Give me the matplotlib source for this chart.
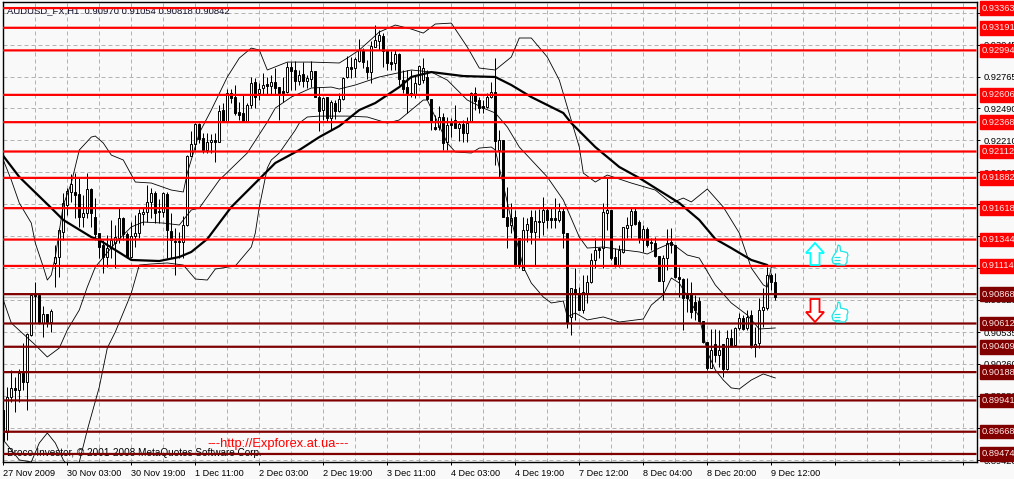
import matplotlib
matplotlib.use("Agg")
import matplotlib.pyplot as plt
from matplotlib.patches import Polygon
import numpy as np

# AUDUSD H1 candles, in points (92561 means 0.92561)
opens = [89858,89666,89971,90050,90032,90180,90102,90512,90861,90861,
         90617,90695,90625,91140,91192,91410,91645,91759,91759,91741,
         91541,91576,91785,91541,91401,91297,91192,91270,91314,91358,
         91532,91392,91192,91375,91401,91567,91584,91672,91750,91593,
         91584,91741,91419,91331,91331,91323,91471,92073,92177,92352,
         92230,92125,92195,92212,92195,92474,92369,92622,92587,92456,
         92448,92378,92517,92718,92622,92666,92700,92683,92718,92674,
         92639,92631,92849,92823,92727,92788,92727,92744,92814,92587,
         92474,92587,92404,92535,92465,92570,92762,92849,92840,92901,
         92997,92849,92805,93023,93075,93119,92988,92892,92884,92962,
         92735,92674,92622,92613,92700,92735,92762,92570,92326,92326,
         92413,92195,92360,92387,92317,92352,92273,92378,92622,92561,
         92509,92500,92587,92631,92125,92212,91541,91471,91541,91358,
         91079,91427,91541,91410,91506,91497,91602,91532,91532,91515,
         91593,91401,90669,90913,90878,90730,90878,90974,91166,91270,
         91270,91576,91602,91192,91122,91236,91445,91471,91593,91497,
         91340,91436,91323,91314,91201,90983,91183,91323,91297,91018,
         91000,90878,90878,90800,90808,90634,90451,90224,90433,90337,
         90433,90215,90486,90425,90573,90660,90573,90686,90407,90442,
         90730,90747,91035,90970]
highs = [89858,90058,90207,90146,90215,90442,90529,90878,90974,90869,
         90765,90695,90739,91297,91445,91750,91794,91916,91924,91881,
         91733,91924,91794,91706,91401,91340,91384,91515,91471,91619,
         91541,91410,91497,91558,91611,91619,91820,91794,91768,91698,
         91759,91759,91576,91445,91410,91549,92081,92291,92360,92360,
         92273,92273,92265,92273,92517,92535,92657,92657,92692,92544,
         92605,92535,92762,92753,92709,92796,92762,92779,92840,92674,
         92762,92892,92892,92901,92823,92892,92779,92901,92814,92674,
         92587,92587,92561,92561,92622,92762,92945,92936,92936,93093,
         93014,92910,93075,93215,93171,93145,92988,92988,92997,92971,
         92823,92823,92823,92779,92866,92927,92823,92570,92430,92509,
         92448,92413,92404,92517,92369,92387,92413,92631,92674,92587,
         92561,92622,92718,92927,92299,92212,91802,91663,91602,91358,
         91541,91532,91602,91602,91611,91715,91628,91619,91706,91663,
         91628,91401,90922,91096,90930,91035,91035,91227,91358,91279,
         91663,91890,91602,91270,91297,91454,91541,91628,91628,91515,
         91471,91454,91358,91366,91201,91209,91436,91445,91297,91105,
         91009,91009,90974,90861,90843,90634,90451,90564,90564,90555,
         90433,90555,90564,90582,90704,90686,90730,90730,90582,90834,
         90922,91105,91054,91054]
lows = [89492,89596,89928,89840,89928,90032,89858,90503,90617,90608,
        90494,90582,90538,90930,91018,91340,91558,91672,91532,91454,
        91454,91532,91454,91340,91183,91052,91105,91183,91096,91314,
        91340,91183,91183,91279,91358,91471,91497,91532,91488,91488,
        91541,91183,91183,91035,91183,91183,91462,92073,92125,92186,
        92099,92099,92099,92020,92195,92369,92369,92535,92430,92387,
        92369,92369,92491,92491,92561,92605,92605,92605,92605,92387,
        92544,92622,92648,92648,92692,92674,92666,92674,92587,92291,
        92387,92369,92299,92395,92456,92561,92753,92753,92762,92892,
        92840,92744,92709,93023,92997,92849,92823,92823,92823,92692,
        92622,92448,92587,92578,92692,92709,92561,92299,92299,92299,
        92125,92125,92238,92317,92204,92195,92195,92378,92474,92448,
        92448,92491,92578,91994,91890,91541,91270,91401,91105,91096,
        91079,91323,91305,91122,91358,91384,91445,91445,91445,91497,
        91270,90573,90512,90643,90730,90704,90791,90965,91096,91183,
        91096,91427,91166,91105,91105,91227,91358,91358,91471,91314,
        91236,91279,91253,91192,90983,90817,91079,91227,91009,90843,
        90555,90712,90660,90643,90625,90442,90207,90224,90276,90233,
        90146,90207,90407,90416,90555,90555,90555,90398,90320,90398,
        90582,90730,90904,90818]
closes = [89596,89971,90050,90032,90180,90102,90520,90861,90852,90617,
          90695,90625,90721,91192,91427,91663,91768,91829,91733,91541,
          91576,91785,91576,91392,91279,91192,91270,91340,91366,91532,
          91392,91192,91375,91401,91576,91584,91672,91750,91576,91584,
          91750,91427,91340,91323,91323,91471,92073,92177,92352,92221,
          92125,92195,92212,92195,92465,92369,92622,92578,92448,92430,
          92378,92517,92709,92587,92657,92692,92683,92718,92666,92622,
          92622,92849,92814,92727,92779,92727,92753,92814,92587,92465,
          92578,92404,92544,92465,92570,92753,92849,92831,92919,92997,
          92892,92805,93032,93084,93128,92988,92884,92875,92962,92744,
          92657,92605,92605,92709,92858,92840,92570,92378,92308,92413,
          92186,92343,92343,92317,92352,92273,92360,92622,92552,92491,
          92491,92587,92631,92204,92212,91541,91462,91532,91122,91122,
          91427,91480,91410,91506,91497,91602,91515,91515,91515,91593,
          91401,90616,90922,90870,90730,90887,90974,91166,91253,91253,
          91584,91602,91183,91122,91253,91454,91471,91593,91480,91358,
          91436,91297,91314,91201,90983,91183,91314,91297,91018,91000,
          90834,90834,90712,90730,90634,90451,90224,90381,90337,90381,
          90215,90486,90416,90573,90660,90564,90669,90407,90433,90730,
          90756,91035,90974,90842]

# moving average and Bollinger bands, read at the bends of each line
ma_bars = [0,4,12,15,22,24,28,32,39,44,47,51,57,65,68,74,79,84,89,93,99,102,107,
           115,123,127,132,140,142,148,154,159,169,174,178,182,187,191]
ma_vals = [92073,91890,91619,91515,91366,91340,91253,91166,91157,91192,91236,91349,
           91628,91907,92012,92125,92238,92334,92474,92535,92674,92762,92805,
           92770,92762,92692,92587,92448,92360,92151,91977,91881,91663,91515,91349,
           91270,91166,91122]
upper_bars = [0,2,4,7,8,10,11,12,13,15,17,19,22,23,25,27,30,33,37,42,45,46,49,52,56,59,
              62,64,66,71,77,84,86,89,94,98,102,105,108,112,116,119,123,127,129,132,136,
              139,141,144,145,148,151,157,163,167,170,172,176,180,184,187,190,191,192,193]
upper_vals = [92038,91863,91663,91488,91314,91105,90991,91035,91192,91645,91837,92125,
              92238,92247,92186,92081,92038,91846,91837,91776,91759,91924,92273,92474,
              92762,92927,93014,92997,92823,92892,92892,92884,92927,92997,93154,93215,
              93180,93145,93224,93232,93023,92840,92823,92936,93102,93102,92936,92735,
              92500,92151,91924,91846,91907,91837,91776,91663,91706,91672,91785,91628,
              91401,91096,90948,90930,91105,91105]
mid_bars = [0,2,8,11,14,16,19,21,23,28,32,35,40,44,47,49,54,61,66,68,72,77,82,84,88,94,
            102,107,111,116,120,123,126,129,136,140,144,146,150,153,159,161,164,167,
            171,174,178,182,186,189,193]
mid_vals = [90817,90616,90425,90320,90398,90555,90730,90930,91105,91314,91454,91497,
            91488,91471,91602,91619,91863,92099,92369,92491,92587,92666,92674,92657,
            92692,92762,92823,92805,92735,92561,92491,92448,92326,92151,91890,91689,
            91366,91270,91279,91262,91236,91218,91270,91314,91209,91183,90948,90791,
            90686,90564,90573]
lower_bars = [0,4,7,9,11,13,15,17,19,21,24,26,28,31,32,34,37,41,45,48,51,53,58,62,63,64,
              66,67,69,73,74,76,79,86,91,96,99,102,105,106,111,113,117,119,122,123,127,
              130,132,135,137,140,141,143,146,150,154,160,162,165,167,169,174,176,178,
              180,182,184,187,190,193]
lower_vals = [89596,89422,89404,89570,89657,89570,89422,89335,89404,89683,90058,90398,
              90538,90791,90878,91122,91131,91140,91122,91000,90991,91087,91114,91279,
              91401,91628,91968,92038,92099,92299,92360,92413,92421,92421,92413,92360,
              92387,92474,92561,92561,92186,92108,92099,92142,92151,92125,91515,91105,
              90965,90843,90791,90808,90669,90704,90643,90669,90625,90651,90773,90861,
              91009,90965,90669,90364,90207,90119,90050,90041,90119,90172,90137]

# horizontal levels, with their labels on the price scale
levels_red = [0.93363,0.93191,0.92994,0.92606,0.92368,0.92112,0.91882,0.91618,0.91344,0.91114]
levels_dark = [0.90868,0.90612,0.90409,0.90188,0.89941,0.89668,0.89474]
scale_prices = [0.93323,0.93045,0.92765,0.92490,0.92210,0.91930,0.91655,0.91375,0.91100,
                0.90820,0.90535,0.90260,0.89980,0.89700,0.89420]
date_labels = ["27 Nov 2009","30 Nov 03:00","30 Nov 19:00","1 Dec 11:00","2 Dec 03:00",
               "2 Dec 19:00","3 Dec 11:00","4 Dec 03:00","4 Dec 19:00","7 Dec 12:00",
               "8 Dec 04:00","8 Dec 20:00","9 Dec 12:00"]
last_price = 0.90842

W, H = 1014, 479
BG = "#f9f9f9"
plt.rcParams["font.family"] = ["Liberation Sans", "DejaVu Sans"]

fig = plt.figure(figsize=(W / 100, H / 100), dpi=100, facecolor=BG)
ax = fig.add_axes([2.5 / W, 1 - 462 / H, 974 / W, 460 / H], facecolor=BG)
ax.set_xlim(-0.2, 243.3)
ax.set_ylim(0.89404, 0.93416)

o = np.array(opens) / 1e5
h = np.array(highs) / 1e5
l = np.array(lows) / 1e5
c = np.array(closes) / 1e5
bars = np.arange(len(o))
up = c >= o

# grid and scales
ax.set_axisbelow(True)
major = np.arange(0, 244, 16)
ax.set_xticks(major)
ax.set_xticklabels(date_labels + [""] * (len(major) - len(date_labels)), ha="left", fontsize=6.6)
ax.set_xticks(np.arange(8, 244, 16), minor=True)
ax.set_yticks(scale_prices)
ax.set_yticklabels(["%.5f" % p for p in scale_prices], fontsize=6.7)
ax.yaxis.tick_right()
ax.tick_params(axis="both", which="major", length=2.5, width=0.72, pad=2.5, colors="black")
ax.tick_params(axis="x", which="minor", length=0)
ax.grid(True, which="both", color="#b4b4b4", lw=0.72, ls=(0, (4, 3)))
for s in ax.spines.values():
    s.set_linewidth(1.0)
    s.set_color("black")

ax.axhline(last_price, color="#c0c0c0", lw=0.9, zorder=1)

# chart captions sit under the level lines
ax.text(4.5 / 974, 1 - 8.5 / 460, "AUDUSD_FX,H1  0.90970 0.91054 0.90818 0.90842", transform=ax.transAxes,
        fontsize=6.8, color="#10102a", va="center", zorder=1.5)
ax.text(4.5 / 974, 1 - 451 / 460, "Broco-Investor, © 2001-2008 MetaQuotes Software Corp.", transform=ax.transAxes,
        fontsize=7.2, color="black", va="center", zorder=1.5)
ax.text(205 / 974, 1 - 442 / 460, "---http://Expforex.at.ua---", transform=ax.transAxes,
        fontsize=9.3, color="#ff0000", va="center", zorder=5)

# candles
ax.vlines(bars, l, h, color="black", lw=0.72, zorder=2)
ax.bar(bars[up], (c - o)[up], bottom=o[up], width=0.42, facecolor="white", edgecolor="black", lw=0.7, zorder=2.2)
ax.bar(bars[~up], (c - o)[~up], bottom=o[~up], width=0.42, facecolor="black", edgecolor="black", lw=0.7, zorder=2.2)

# bands and the thick average
ax.plot(upper_bars, np.array(upper_vals) / 1e5, color="black", lw=0.6, zorder=3)
ax.plot(mid_bars, np.array(mid_vals) / 1e5, color="black", lw=0.6, zorder=3)
ax.plot(lower_bars, np.array(lower_vals) / 1e5, color="black", lw=0.6, zorder=3)
ax.plot(ma_bars, np.array(ma_vals) / 1e5, color="black", lw=1.6, zorder=3.2, solid_capstyle="round")

# levels and their labels
for levels, col in ((levels_red, "#ff0000"), (levels_dark, "#800000")):
    for p in levels:
        ax.plot([-0.2, 243.3], [p, p], color=col, lw=1.6, zorder=4, snap=False, solid_capstyle="butt")
        ax.text(1 + 5.5 / 974, p, "%.5f" % p, transform=ax.get_yaxis_transform(), fontsize=6.7,
                color="#ffe8e8", va="center", ha="left", clip_on=False, zorder=6,
                bbox=dict(facecolor=col, edgecolor=col, pad=1.6))


def px_patch(points, closed=True, **kw):
    # decorative icons placed by image pixels
    pts = [(x / W, 1 - y / H) for x, y in points]
    fig.add_artist(Polygon(pts, closed=closed, transform=fig.transFigure, **kw))


def arrow(cx, y_tail, y_base, y_tip, col):
    px_patch([(cx - 4.5, y_tail), (cx + 4.5, y_tail), (cx + 4.5, y_base), (cx + 9, y_base), (cx, y_tip),
              (cx - 9, y_base), (cx - 4.5, y_base)], facecolor="white", edgecolor=col, lw=1.3)


def thumb(x0, y0):
    shape = [(6, 0), (8, 1), (8.5, 6), (15, 7.5), (16, 10), (15, 13), (15, 17), (13, 20), (5, 20), (1, 18),
             (0, 14), (2, 10), (5, 6)]
    px_patch([(x0 + a, y0 + b) for a, b in shape], facecolor="white", edgecolor="#19e6e6", lw=0.9)
    for b in (12, 15, 18):
        px_patch([(x0 + 1.5, y0 + b), (x0 + 8, y0 + b)], closed=False, fill=False, edgecolor="#19e6e6", lw=0.9)


arrow(815, 265, 253, 243, "#00ffff")
arrow(815, 299, 312, 322, "#ff0000")
thumb(832, 245)
thumb(832, 302)

fig.savefig("out.png", dpi=100, facecolor=BG)
